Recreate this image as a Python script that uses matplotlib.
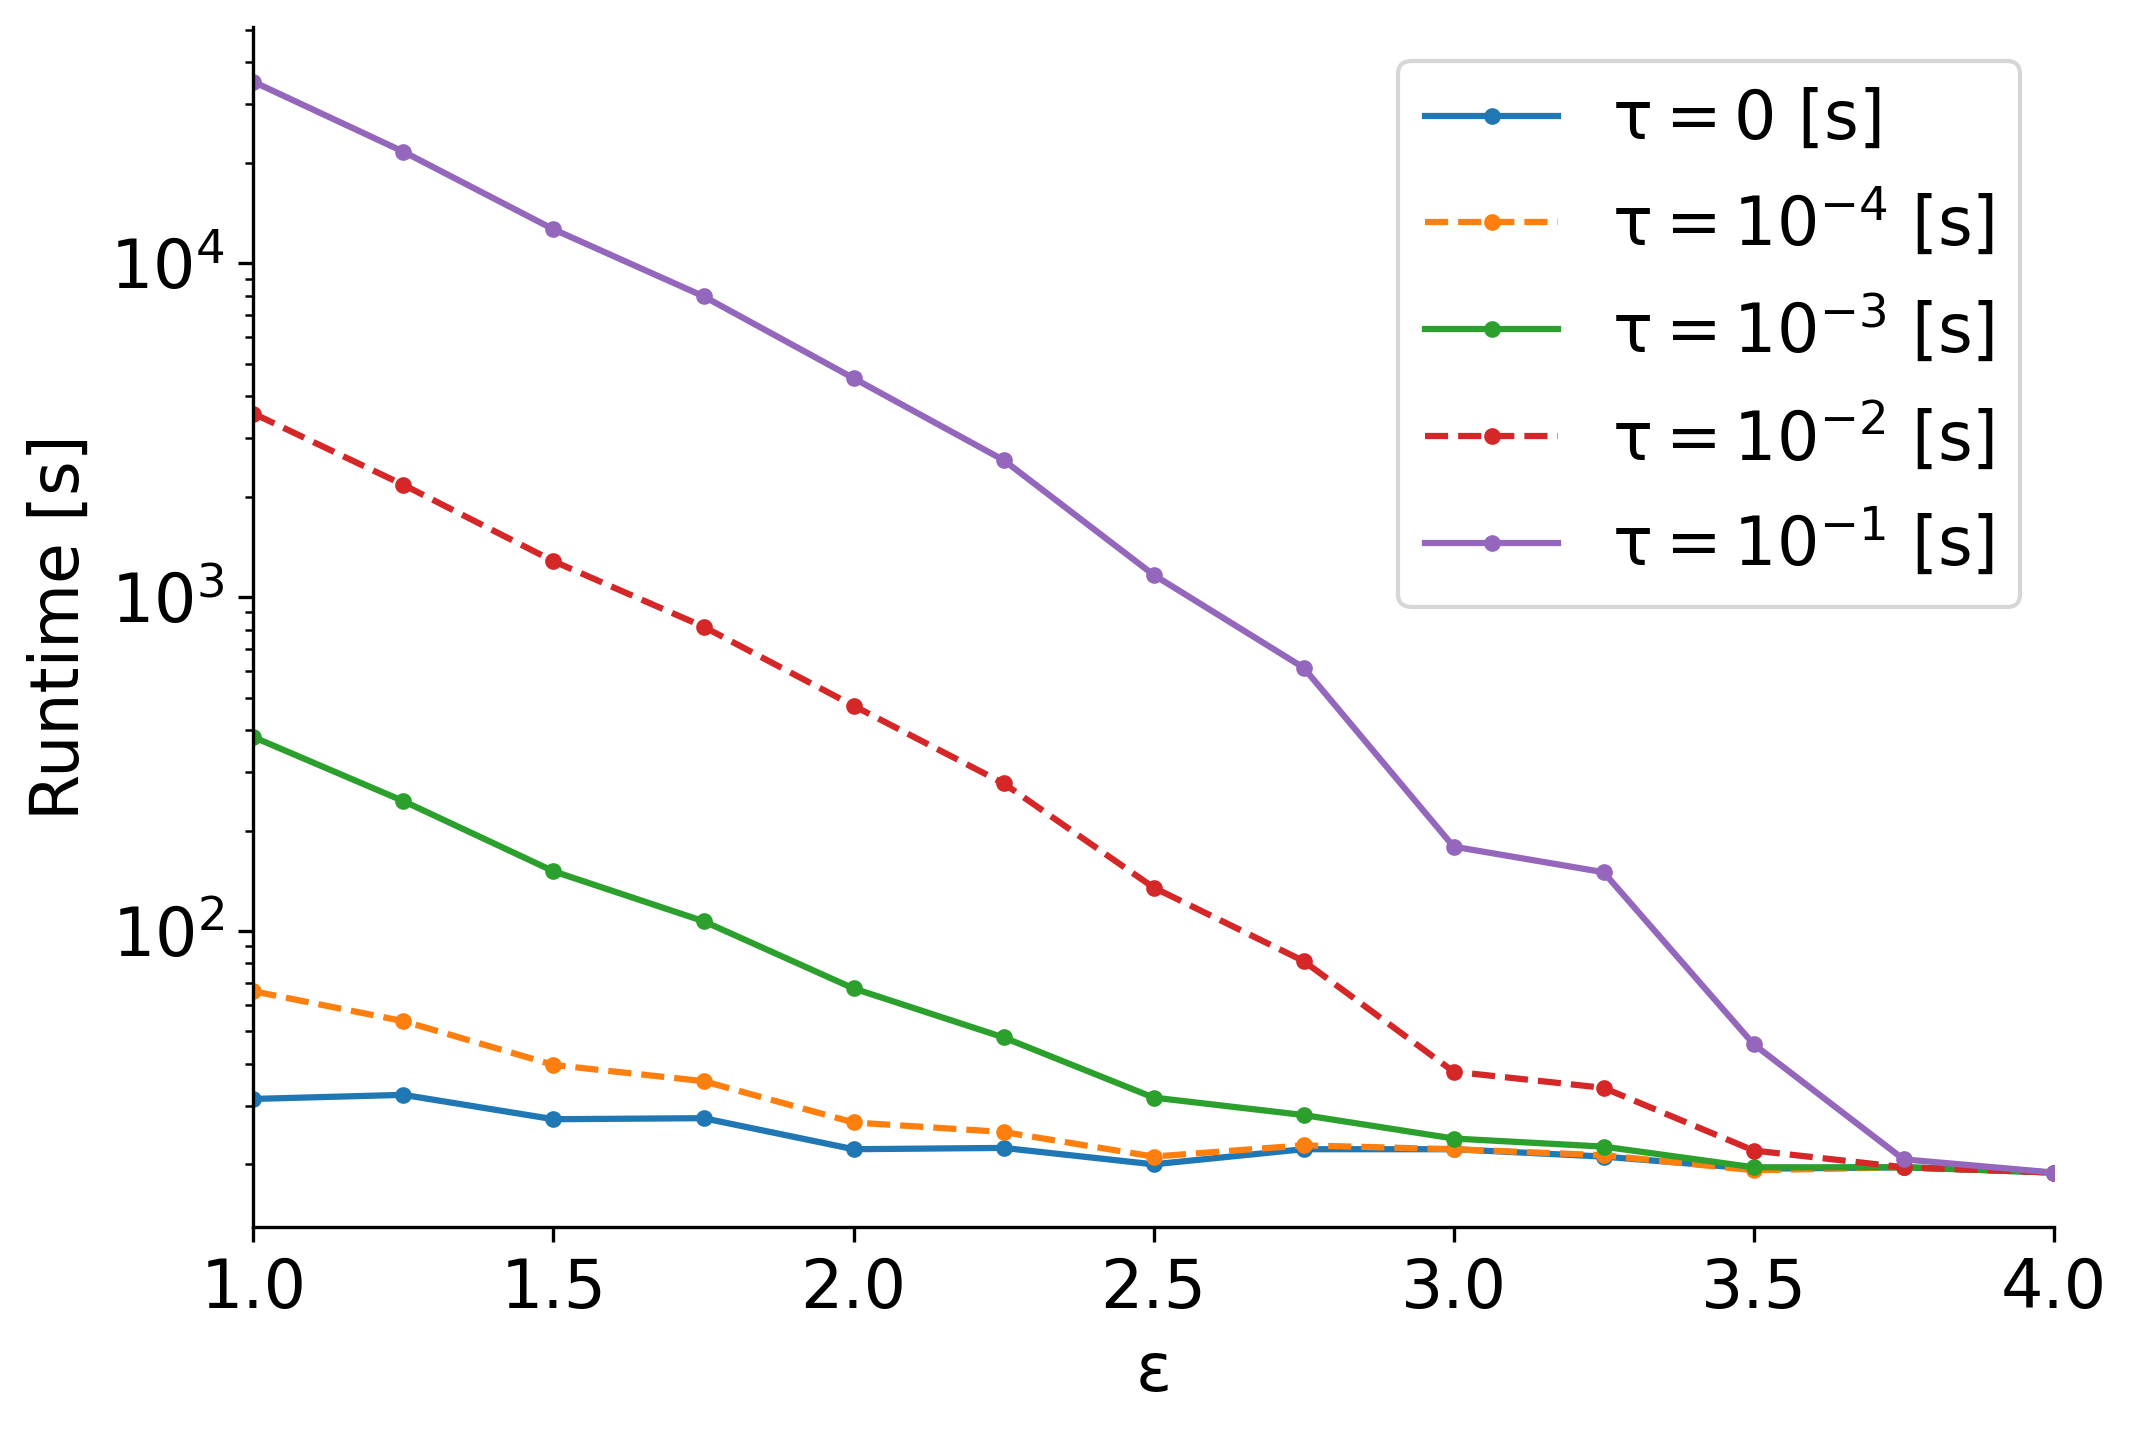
import numpy as np
import matplotlib
matplotlib.use('Agg')
import matplotlib.pyplot as plt

plt.rcParams['font.size'] = 16
plt.rcParams['mathtext.default'] = 'regular'

eps = [1.0, 1.25, 1.5, 1.75, 2.0, 2.25, 2.5, 2.75, 3.0, 3.25, 3.5, 3.75, 4.0]

tau_0 = [31.4, 32.3, 27.3, 27.5, 22.2, 22.4, 20.0, 22.2, 22.2, 21.1, 19.4, 19.6, 18.9]
tau_1e4 = [66, 53.7, 39.7, 35.5, 26.7, 25.0, 21.1, 22.8, 22.2, 21.3, 19.2, 19.6, 18.9]
tau_1e3 = [381, 245, 151, 107, 67.3, 48, 31.7, 28.1, 23.9, 22.6, 19.6, 19.6, 18.9]
tau_1e2 = [3550, 2170, 1282, 816, 473, 277, 135, 81.3, 37.9, 33.9, 22.0, 19.6, 18.9]
tau_1e1 = [35000, 21600, 12650, 7970, 4530, 2575, 1167, 615, 179, 150, 45.8, 20.7, 18.9]

labels = [r'$\tau = 0$ [s]', r'$\tau = 10^{-4}$ [s]', r'$\tau = 10^{-3}$ [s]',
          r'$\tau = 10^{-2}$ [s]', r'$\tau = 10^{-1}$ [s]']
series = [tau_0, tau_1e4, tau_1e3, tau_1e2, tau_1e1]
styles = ['-', '--', '-', '--', '-']

fig, ax = plt.subplots(figsize=(2137 / 300, 1433 / 300), dpi=300)
fig.subplots_adjust(left=0.1186, right=0.961, top=0.981, bottom=0.1437)

for vals, lab, ls in zip(series, labels, styles):
    ax.plot(eps, vals, ls, marker='.', label=lab)

ax.set_yscale('log')
ax.set_xlim(1.0, 4.0)
ax.set_xlabel('ε')
ax.set_ylabel('Runtime [s]')
ax.spines['top'].set_visible(False)
ax.spines['right'].set_visible(False)
ax.legend(loc='upper right')

fig.savefig('out.png', dpi=300)
